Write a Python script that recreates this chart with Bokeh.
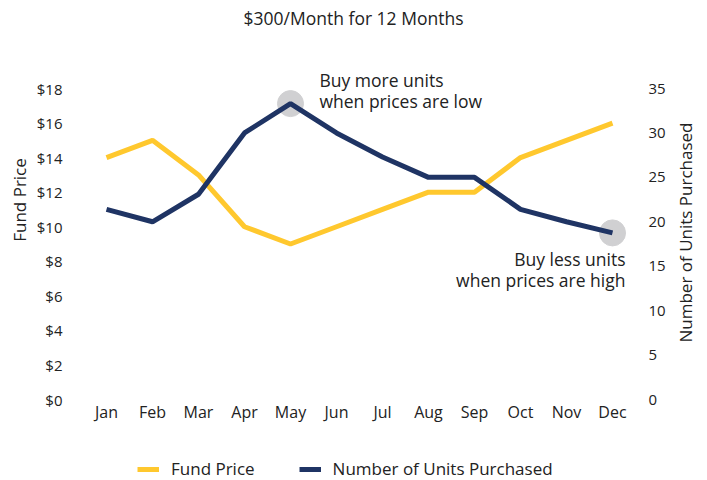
import math
from bokeh.plotting import figure
from bokeh.layouts import row, column
from bokeh.models import Range1d, LinearAxis, Legend, LegendItem, FixedTicker, PrintfTickFormatter, Label
from bokeh.core.properties import value
from bokeh.embed import file_html
from bokeh.resources import INLINE

months = ["Jan", "Feb", "Mar", "Apr", "May", "Jun", "Jul", "Aug", "Sep", "Oct", "Nov", "Dec"]
fund_price = [14, 15, 13, 10, 9, 10, 11, 12, 12, 14, 15, 16]
units = [21.4, 20.0, 23.1, 30.0, 33.3, 30.0, 27.3, 25.0, 25.0, 21.4, 20.0, 18.75]
price_ticks = [0, 2, 4, 6, 8, 10, 12, 14, 16, 18]
unit_ticks = [0, 5, 10, 15, 20, 25, 30, 35]
notes = ["Buy more units\nwhen prices are low", "Buy less units\nwhen prices are high"]
note_months = ["May", "Dec"]
series_names = ["Fund Price", "Number of Units Purchased"]
title_text = "$300/Month for 12 Months"
right_label = "Number of Units Purchased"

FONT = "Open Sans"
TXT = "#222222"
YEL = "#FFC82E"
NAVY = "#1F3464"

PRICE_MAX, UNITS_MAX = 18, 35
AXIS_H = 311          # pixel height of the 0..max axis span
TOP_PAD = 88          # frame room above the axis span (title + annotation)
FH = AXIS_H + TOP_PAD
FW = 552
BOTTOM = 30           # room for the month labels
MAIN_H = FH + BOTTOM
TOTAL_W, TOTAL_H = 707, 480

p = figure(x_range=months, y_range=Range1d(0, PRICE_MAX * FH / AXIS_H),
           frame_width=FW, frame_height=FH, output_backend="svg",
           toolbar_location=None, min_border_left=83, min_border_top=0,
           min_border_right=0, min_border_bottom=BOTTOM)
p.extra_y_ranges = {"units": Range1d(0, UNITS_MAX * FH / AXIS_H)}

p.outline_line_color = None
p.grid.grid_line_color = None
p.background_fill_color = None

# annotation circles
hl_idx = [months.index(m) for m in note_months]
p.scatter(note_months, [units[i] for i in hl_idx], size=26,
          color="#D0D0D2", y_range_name="units")

p.line(months, fund_price, line_color=YEL, line_width=5)
p.line(months, units, line_color=NAVY, line_width=5, y_range_name="units")

lab1 = Label(x=hl_idx[0] + 0.5, y=units[hl_idx[0]], text=notes[0], y_range_name="units",
             x_offset=29, y_offset=36, text_align="left", text_baseline="top",
             text_font=FONT, text_font_size="17.5px", text_color=TXT, text_line_height=0.88)
lab2 = Label(x=hl_idx[1] + 0.5, y=units[hl_idx[1]], text=notes[1], y_range_name="units",
             x_offset=13, y_offset=-14, text_align="right", text_baseline="top",
             text_font=FONT, text_font_size="17.5px", text_color=TXT, text_line_height=0.88)
title = Label(x=270, y=FH - 17, x_units="screen", y_units="screen", text=title_text,
              text_align="center", text_baseline="middle",
              text_font=FONT, text_font_size="17.5px", text_color=TXT)
for l in (lab1, lab2, title):
    p.add_layout(l)

def style(ax, tick_size="15px"):
    ax.axis_line_color = None
    ax.major_tick_line_color = None
    ax.minor_tick_line_color = None
    ax.major_tick_out = 0
    ax.major_tick_in = 0
    ax.major_label_text_font = FONT
    ax.major_label_text_font_size = tick_size
    ax.major_label_text_color = TXT
    ax.axis_label_text_font = FONT
    ax.axis_label_text_font_size = "17px"
    ax.axis_label_text_font_style = "normal"
    ax.axis_label_text_color = TXT

p.yaxis.ticker = FixedTicker(ticks=price_ticks)
p.yaxis.formatter = PrintfTickFormatter(format="$%d")
p.yaxis.axis_label = "Fund Price"
style(p.yaxis[0])
p.yaxis.major_label_standoff = 21
p.yaxis.axis_label_standoff = 3

style(p.xaxis[0], "16px")
p.xaxis.major_label_standoff = 1

ax2 = LinearAxis(y_range_name="units", ticker=FixedTicker(ticks=unit_ticks))
style(ax2)
ax2.major_label_standoff = 13
p.add_layout(ax2, "right")

# right-hand axis title, reading bottom to top
RW = 42
p2 = figure(x_range=Range1d(0, RW), y_range=Range1d(0, MAIN_H), frame_width=RW, frame_height=MAIN_H,
            output_backend="svg", toolbar_location=None, x_axis_location=None,
            y_axis_location=None, min_border=0)
p2.outline_line_color = None
p2.grid.grid_line_color = None
p2.background_fill_color = None
p2.text([RW / 2 - 4], [MAIN_H - 232], text=[right_label], angle=math.pi / 2,
        text_align="center", text_baseline="middle", text_font_size="17px",
        text_color=TXT, text_font=value(FONT))

# legend strip below the chart (legend keys are off-canvas proxy lines)
LH = TOTAL_H - MAIN_H
p3 = figure(x_range=Range1d(0, 1), y_range=Range1d(0, 1), frame_width=TOTAL_W, frame_height=LH,
            output_backend="svg", toolbar_location=None, x_axis_location=None,
            y_axis_location=None, min_border=0)
p3.outline_line_color = None
p3.grid.grid_line_color = None
p3.background_fill_color = None
k1 = p3.line([-5, -4], [-5, -4], line_color=YEL, line_width=5)
k2 = p3.line([-5, -4], [-5, -4], line_color=NAVY, line_width=5)
legend = Legend(items=[LegendItem(label=series_names[0], renderers=[k1]),
                       LegendItem(label=series_names[1], renderers=[k2])],
                orientation="horizontal", location=(137, 0),
                label_text_font=FONT, label_text_font_size="17px", label_text_color=TXT,
                glyph_width=22, label_standoff=12, spacing=44, padding=0, margin=0,
                border_line_color=None, background_fill_alpha=0)
p3.add_layout(legend, "center")

layout = column(row(p, p2, spacing=0), p3, spacing=0)
open("out.html", "w").write(file_html(layout, INLINE))
